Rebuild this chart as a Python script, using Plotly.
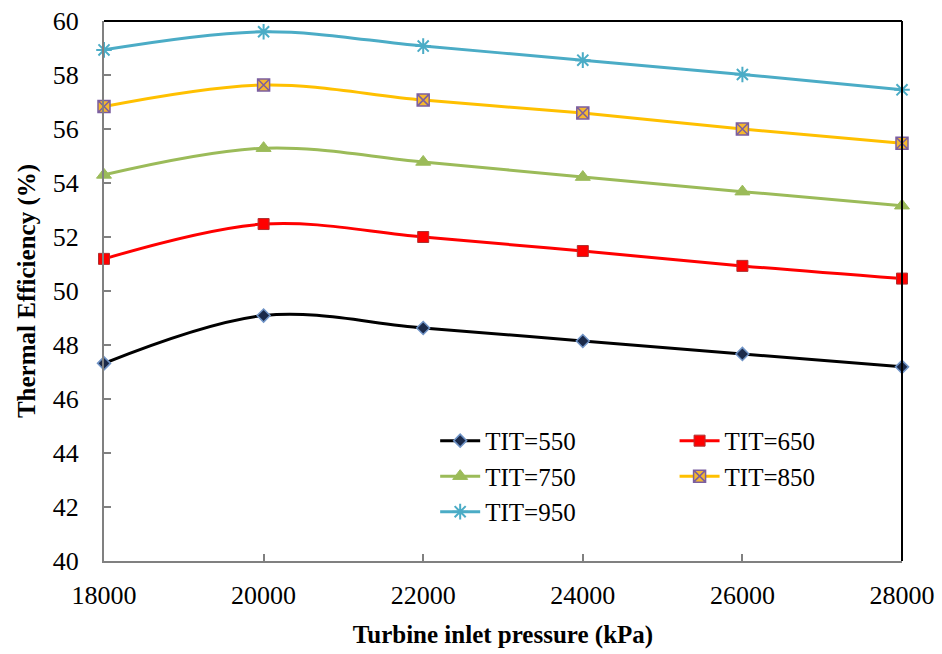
import plotly.graph_objects as go

pressure = [18000, 20000, 22000, 24000, 26000, 28000]
tit_550 = [47.32, 49.09, 48.63, 48.15, 47.67, 47.19]
tit_650 = [51.19, 52.48, 52.00, 51.48, 50.93, 50.46]
tit_750 = [54.30, 55.29, 54.78, 54.22, 53.68, 53.16]
tit_850 = [56.83, 57.63, 57.07, 56.59, 56.00, 55.47]
tit_950 = [58.93, 59.60, 59.07, 58.55, 58.02, 57.45]

series = [
    ("TIT=550", tit_550, "black", dict(symbol="diamond", size=10, color="#1B2A4A", line=dict(color="#6F93C6", width=1.5)), "legend"),
    ("TIT=650", tit_650, "#FF0000", dict(symbol="square", size=11, color="#FF0000", line=dict(color="#B03030", width=1)), "legend2"),
    ("TIT=750", tit_750, "#9BBB59", dict(symbol="triangle-up", size=13, color="#9BBB59", line=dict(color="#9BBB59", width=1)), "legend"),
    ("TIT=850", tit_850, "#FFC000", dict(symbol="square-x", size=12, color="#F5B82E", line=dict(color="#7B5EA0", width=1.5)), "legend2"),
    ("TIT=950", tit_950, "#4BACC6", dict(symbol="asterisk-open", size=13, color="#4BACC6", line=dict(color="#4BACC6", width=2)), "legend"),
]

fig = go.Figure()
for name, vals, col, mk, lg in series:
    fig.add_trace(go.Scatter(
        x=pressure, y=vals, name=name, mode="lines+markers",
        line=dict(color=col, width=3, shape="spline", smoothing=1.0),
        marker=mk, legend=lg, cliponaxis=False,
    ))

SERIF = "Liberation Serif"
fig.update_layout(
    width=942, height=654,
    margin=dict(l=104, r=40, t=21, b=93),
    paper_bgcolor="white", plot_bgcolor="white",
    font=dict(family=SERIF, size=26, color="black"),
    showlegend=True,
    legend=dict(x=0.415, y=0.265, xanchor="left", yanchor="top",
                bgcolor="rgba(0,0,0,0)", font=dict(size=25, family=SERIF, color="black"),
                tracegroupgap=0, itemwidth=40),
    legend2=dict(x=0.715, y=0.265, xanchor="left", yanchor="top",
                 bgcolor="rgba(0,0,0,0)", font=dict(size=25, family=SERIF, color="black"),
                 tracegroupgap=0, itemwidth=40),
    xaxis=dict(range=[18000, 28000], tickvals=pressure, tickformat="d", automargin=False,
               ticks="inside", ticklen=7, ticklabelstandoff=10,
               tickcolor="#808080", tickwidth=1.5, showgrid=False, zeroline=False,
               showline=True, linecolor="#808080", linewidth=2,
               tickfont=dict(size=26, family=SERIF, color="black"),
               title=dict(text="<b>Turbine inlet pressure (kPa)</b>", standoff=16,
                          font=dict(size=25, family=SERIF, color="black"))),
    yaxis=dict(range=[40, 60], dtick=2, automargin=False,
               ticks="inside", ticklen=7, ticklabelstandoff=18,
               tickcolor="#808080", tickwidth=1.5, showgrid=False, zeroline=False,
               showline=True, linecolor="#808080", linewidth=2,
               tickfont=dict(size=26, family=SERIF, color="black"),
               title=dict(text="<b>Thermal Efficiency (%)</b>", standoff=10,
                          font=dict(size=25, family=SERIF, color="black"))),
    shapes=[
        dict(type="line", xref="paper", yref="paper", x0=0, x1=1, y0=1, y1=1,
             line=dict(color="black", width=2)),
        dict(type="line", xref="paper", yref="paper", x0=1, x1=1, y0=0, y1=1,
             line=dict(color="black", width=2)),
    ],
)

fig.write_html("out.html")
